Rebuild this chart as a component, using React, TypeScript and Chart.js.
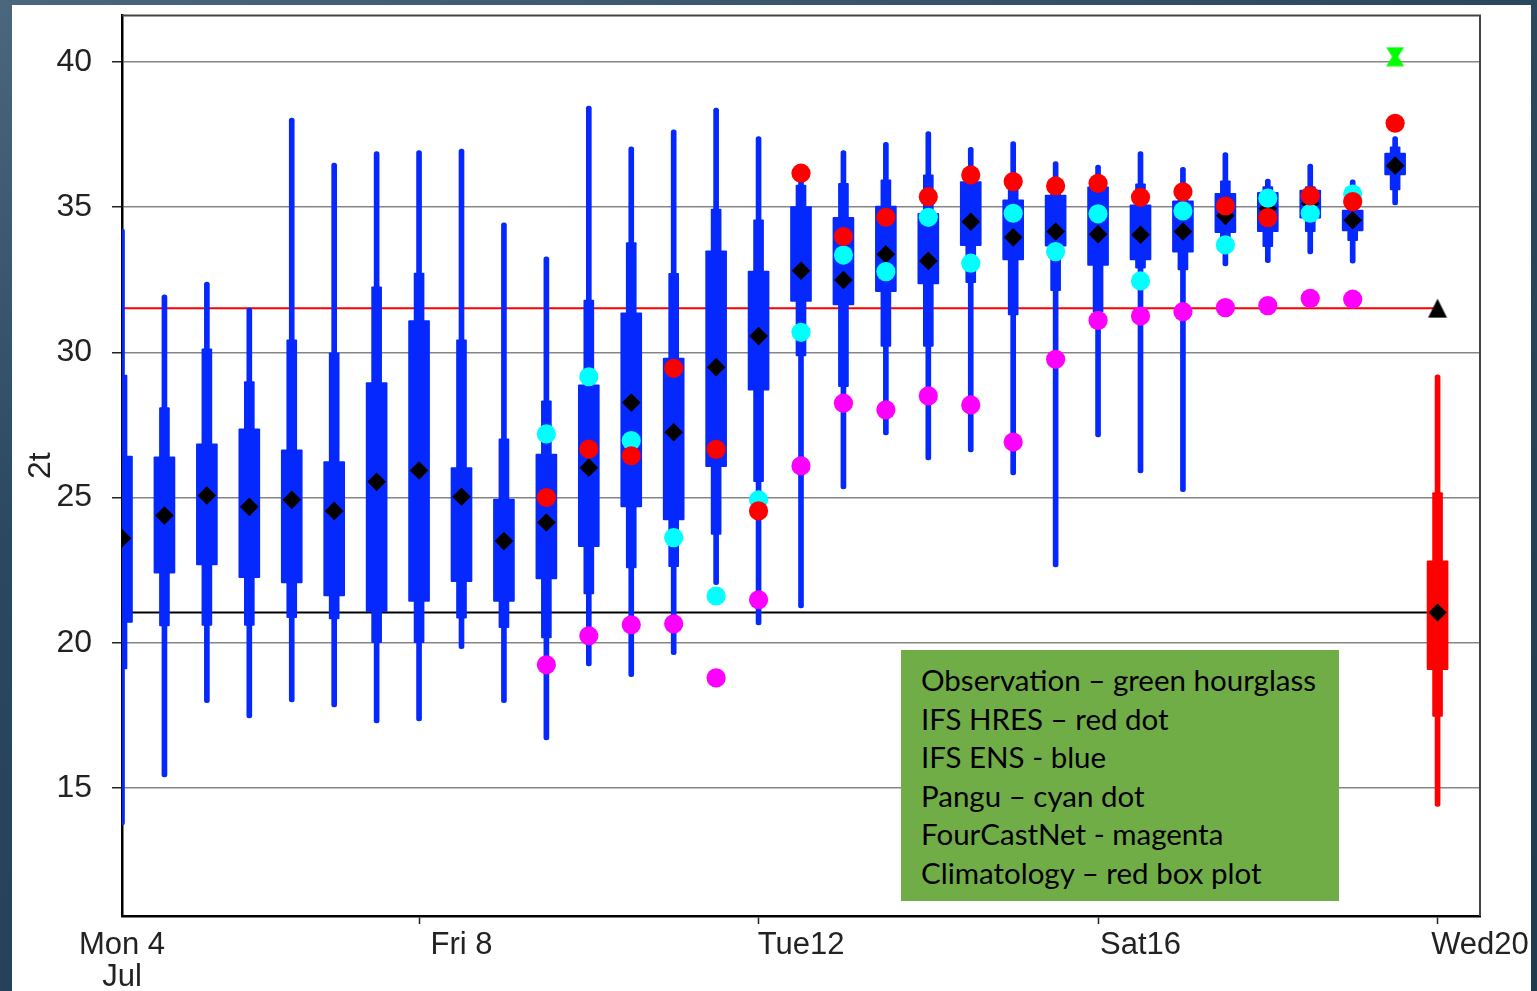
import React, { useEffect, useRef } from 'react';
import { Chart, registerables } from 'chart.js';

Chart.register(...registerables);

// ---- Data (hours since Mon 4 Jul 00 UTC) ----
const leadHours = [12, 24, 36, 48, 60, 72, 84, 96, 108, 120, 132, 144, 156, 168, 180, 192, 204, 216, 228, 240, 252, 264, 276, 288, 300, 312, 324, 336, 348, 360, 372];

// IFS ENS box plot statistics
const ensMax = [34.25, 31.98, 32.42, 31.53, 38.07, 36.52, 36.91, 36.95, 37.0, 34.46, 33.29, 38.48, 37.08, 37.66, 38.41, 37.43, 36.0, 36.95, 37.23, 37.6, 37.06, 37.26, 36.57, 36.45, 36.91, 36.37, 36.88, 35.97, 36.48, 35.94, 37.43];
const ensP90 = [29.22, 28.1, 30.12, 28.99, 30.43, 29.98, 32.26, 32.73, 30.43, 27.02, 28.33, 31.8, 33.78, 32.72, 34.93, 34.56, 35.76, 35.82, 35.94, 36.11, 36.2, 35.66, 35.6, 35.8, 35.8, 35.6, 35.91, 35.71, 35.71, 35.1, 37.08];
const ensQ3 = [26.43, 26.4, 26.85, 27.37, 26.64, 26.24, 28.96, 31.09, 26.03, 24.95, 26.5, 28.88, 31.36, 29.8, 33.5, 32.8, 35.02, 34.65, 35.04, 34.79, 35.88, 35.25, 35.42, 35.7, 35.08, 35.22, 35.48, 35.51, 35.59, 34.9, 36.86];
const ensMedian = [23.6, 24.38, 25.07, 24.68, 24.92, 24.54, 25.54, 25.93, 25.03, 23.5, 24.14, 26.03, 28.27, 27.25, 29.49, 30.56, 32.81, 32.49, 33.38, 33.15, 34.5, 33.96, 34.16, 34.07, 34.05, 34.16, 34.7, 34.95, 35.13, 34.55, 36.43];
const ensQ1 = [20.7, 22.4, 22.68, 22.24, 22.06, 21.61, 21.07, 21.42, 22.1, 21.42, 22.2, 23.31, 24.68, 24.23, 26.06, 28.7, 31.75, 31.63, 32.09, 32.36, 33.67, 33.18, 33.66, 32.99, 33.18, 33.45, 34.12, 34.16, 34.62, 34.18, 36.11];
const ensP10 = [19.1, 20.58, 20.6, 20.6, 20.86, 20.82, 20.0, 20.0, 20.85, 20.52, 20.17, 21.68, 22.58, 22.62, 23.73, 25.55, 29.88, 28.82, 30.2, 30.2, 32.4, 31.29, 32.12, 31.38, 32.9, 32.84, 33.53, 33.64, 34.16, 33.85, 35.59];
const ensMin = [13.73, 15.38, 17.94, 17.41, 17.96, 17.79, 17.24, 17.31, 19.8, 17.94, 16.65, 19.2, 18.83, 19.59, 22.0, 20.61, 21.2, 25.3, 27.16, 26.3, 26.57, 25.78, 22.61, 27.09, 25.85, 25.2, 32.98, 33.09, 33.39, 33.07, 35.08];

// IFS HRES (red dot)
const hresHours = [132, 144, 156, 168, 180, 192, 204, 216, 228, 240, 252, 264, 276, 288, 300, 312, 324, 336, 348, 360, 372];
const hresValues = [25.0, 26.67, 26.44, 29.45, 26.66, 24.54, 36.17, 33.99, 34.65, 35.36, 36.11, 35.88, 35.73, 35.82, 35.34, 35.53, 35.04, 34.64, 35.39, 35.19, 37.89];

// Pangu (cyan) and FourCastNet (magenta)
const aiHours = [132, 144, 156, 168, 180, 192, 204, 216, 228, 240, 252, 264, 276, 288, 300, 312, 324, 336, 348, 360];
const panguValues = [27.19, 29.16, 26.96, 23.62, 21.61, 24.92, 30.69, 33.35, 32.78, 34.65, 33.07, 34.79, 33.47, 34.77, 32.46, 34.87, 33.7, 35.31, 34.79, 35.45];
const fourcastnetValues = [19.24, 20.24, 20.62, 20.65, 18.79, 21.48, 26.09, 28.25, 28.02, 28.5, 28.19, 26.91, 29.76, 31.1, 31.25, 31.4, 31.54, 31.61, 31.86, 31.83];

// Observation (green hourglass)
const obsHours = [372];
const obsValues = [40.18];

// Climatology (red box plot) at Wed 20
const climHour = 384;
const climMax = 29.23;
const climP90 = 25.17;
const climQ3 = 22.82;
const climMedian = 21.04;
const climQ1 = 19.07;
const climP10 = 17.46;
const climMin = 14.36;

// Reference lines
const thresholdValue = 31.52;
const lineStartHour = 12;

// Axes
const xMin = 12;
const xMax = 396;
const yMin = 10.59;
const yMax = 41.6;
const yTicks = [15, 20, 25, 30, 35, 40];
// tick marks at midnight; day labels sit at noon of that day
const xTickHours = [0, 96, 192, 288, 384];
const xTickLabels: (string | string[])[] = [['Mon 4', 'Jul'], 'Fri 8', 'Tue12', 'Sat16', 'Wed20'];
const yTitle = '2t';

const legendLines = [
  'Observation – green hourglass',
  'IFS HRES – red dot',
  'IFS ENS - blue',
  'Pangu – cyan dot',
  'FourCastNet - magenta',
  'Climatology – red box plot',
];

const BLUE = '#0528ff';
const RED = '#ff0000';

function makeHourglass(): HTMLCanvasElement {
  const c = document.createElement('canvas');
  c.width = 20;
  c.height = 20;
  const g = c.getContext('2d')!;
  g.fillStyle = '#00ff00';
  g.beginPath();
  g.moveTo(1, 0.5);
  g.lineTo(19, 0.5);
  g.lineTo(13, 10);
  g.lineTo(19, 19.5);
  g.lineTo(1, 19.5);
  g.lineTo(7, 10);
  g.closePath();
  g.fill();
  return c;
}

function makeTriangle(): HTMLCanvasElement {
  const c = document.createElement('canvas');
  c.width = 20;
  c.height = 20;
  const g = c.getContext('2d')!;
  g.fillStyle = '#000000';
  g.beginPath();
  g.moveTo(10, 0.5);
  g.lineTo(19.5, 19.5);
  g.lineTo(0.5, 19.5);
  g.closePath();
  g.fill();
  return c;
}

const framePlugin = {
  id: 'frame',
  beforeDatasetsDraw(chart: any) {
    const { ctx, chartArea } = chart;
    ctx.save();
    ctx.strokeStyle = '#444';
    ctx.lineWidth = 2;
    ctx.beginPath();
    ctx.moveTo(chartArea.left, chartArea.top);
    ctx.lineTo(chartArea.right, chartArea.top);
    ctx.lineTo(chartArea.right, chartArea.bottom);
    ctx.stroke();
    ctx.restore();
  },
};

function barSet(label: string, hours: number[], lows: number[], highs: number[], thickness: number, color: string, radius: number, order: number) {
  return {
    type: 'bar' as const,
    label,
    data: hours.map((h, i) => ({ x: h, y: [lows[i], highs[i]] })),
    backgroundColor: color,
    barThickness: thickness,
    grouped: false,
    borderSkipped: false,
    borderWidth: 0,
    borderRadius: radius,
    order,
  };
}

function pointSet(label: string, hours: number[], values: number[], style: any, radius: number, color: string, order: number) {
  return {
    type: 'line' as const,
    label,
    data: hours.map((h, i) => ({ x: h, y: values[i] })),
    showLine: false,
    pointStyle: style,
    pointRadius: radius,
    pointBackgroundColor: color,
    pointBorderWidth: 0,
    borderWidth: 0,
    backgroundColor: color,
    borderColor: color,
    order,
  };
}

export default function App() {
  const canvasRef = useRef<HTMLCanvasElement | null>(null);

  useEffect(() => {
    if (!canvasRef.current) return;
    const hourglass = makeHourglass();
    const triangle = makeTriangle();

    const chart = new Chart(canvasRef.current, {
      type: 'bar',
      data: {
        datasets: [
          {
            type: 'line',
            label: 'threshold',
            data: [{ x: lineStartHour, y: thresholdValue }, { x: climHour, y: thresholdValue }],
            borderColor: RED,
            borderWidth: 2,
            pointRadius: 0,
            order: 20,
          } as any,
          {
            type: 'line',
            label: 'clim median',
            data: [{ x: lineStartHour, y: climMedian }, { x: climHour, y: climMedian }],
            borderColor: '#000000',
            borderWidth: 2,
            pointRadius: 0,
            order: 20,
          } as any,
          barSet('ENS whisker', leadHours, ensMin, ensMax, 5, BLUE, 2.5, 12),
          barSet('ENS 10-90', leadHours, ensP10, ensP90, 10, BLUE, 1, 11),
          barSet('ENS 25-75', leadHours, ensQ1, ensQ3, 21, BLUE, 1, 10),
          barSet('Clim whisker', [climHour], [climMin], [climMax], 5, RED, 2.5, 12),
          barSet('Clim 10-90', [climHour], [climP10], [climP90], 10, RED, 1, 11),
          barSet('Clim 25-75', [climHour], [climQ1], [climQ3], 21, RED, 1, 10),
          pointSet('ENS median', leadHours, ensMedian, 'rectRot', 9.3, '#000000', 6),
          pointSet('Clim median', [climHour], [climMedian], 'rectRot', 9, '#000000', 6),
          pointSet('FourCastNet', aiHours, fourcastnetValues, 'circle', 9.6, '#ff00ff', 5),
          pointSet('Pangu', aiHours, panguValues, 'circle', 9.6, '#00ffff', 4),
          pointSet('IFS HRES', hresHours, hresValues, 'circle', 9.6, RED, 3),
          pointSet('Observation', obsHours, obsValues, hourglass, 10, '#00ff00', 2),
          pointSet('Threshold', [climHour], [thresholdValue], triangle, 10, '#000000', 2),
        ] as any,
      },
      options: {
        responsive: false,
        animation: false,
        events: [],
        layout: { padding: { left: 0, top: 15.5, right: 57, bottom: 0 } },
        plugins: {
          legend: { display: false },
          tooltip: { enabled: false },
        },
        scales: {
          x: {
            type: 'linear',
            min: xMin,
            max: xMax,
            offset: false,
            afterFit: (s: any) => {
              s.height = 75;
              s.paddingLeft = 0;
              s.paddingRight = 0;
            },
            afterBuildTicks: (s: any) => {
              s.ticks = xTickHours.map((v) => ({ value: v }));
            },
            grid: {
              display: true,
              drawOnChartArea: false,
              offset: false,
              tickLength: 8,
              tickColor: (ctx: any) => (ctx.tick && ctx.tick.value < xMin ? 'rgba(0,0,0,0)' : '#222'),
              tickWidth: 1.5,
            },
            border: { display: true, color: '#000', width: 2.5 },
            ticks: {
              autoSkip: false,
              maxRotation: 0,
              minRotation: 0,
              padding: 6,
              labelOffset: 42.44,
              color: '#222',
              font: { family: 'Liberation Sans', size: 31, lineHeight: 1.02 },
              callback: (value: any) => {
                const i = xTickHours.indexOf(Number(value));
                return i >= 0 ? xTickLabels[i] : '';
              },
            },
          },
          y: {
            type: 'linear',
            min: yMin,
            max: yMax,
            afterFit: (s: any) => {
              s.width = 122;
              s.paddingTop = 0;
              s.paddingBottom = 0;
            },
            afterBuildTicks: (s: any) => {
              s.ticks = yTicks.map((v) => ({ value: v }));
            },
            grid: {
              color: '#858585',
              lineWidth: 1.5,
              tickLength: 10,
              tickColor: '#222',
              tickWidth: 1.5,
            },
            border: { display: true, color: '#000', width: 2.5 },
            ticks: {
              padding: 20,
              color: '#222',
              font: { family: 'Liberation Sans', size: 32 },
            },
            title: {
              display: true,
              text: yTitle,
              color: '#222',
              font: { family: 'Liberation Sans', size: 32 },
              padding: { top: 22, bottom: 0 },
            },
          },
        },
      } as any,
      plugins: [framePlugin],
    });

    return () => {
      chart.destroy();
    };
  }, []);

  return (
    <div
      style={{
        position: 'fixed',
        left: 0,
        top: 0,
        width: 1537,
        height: 991,
        overflow: 'hidden',
        background: 'linear-gradient(160deg, #4a677e 0%, #2a4860 35%, #1e3a52 100%)',
      }}
    >
      <div
        style={{
          position: 'absolute',
          left: 12,
          top: 5,
          width: 1519,
          height: 986,
          background: '#ffffff',
        }}
      />
      <canvas
        ref={canvasRef}
        width={1537}
        height={991}
        style={{ position: 'absolute', left: 0, top: 0, width: 1537, height: 991 }}
      />
      <div
        style={{
          position: 'absolute',
          left: 901,
          top: 650,
          width: 438,
          height: 251,
          background: '#70ad47',
          boxSizing: 'border-box',
          padding: '11px 0 0 20px',
          fontFamily: 'Lato, "Noto Sans", sans-serif',
          fontSize: 29.5,
          lineHeight: '38.5px',
          color: '#000',
        }}
      >
        {legendLines.map((t) => (
          <div key={t} style={{ whiteSpace: 'nowrap' }}>
            {t}
          </div>
        ))}
      </div>
    </div>
  );
}
